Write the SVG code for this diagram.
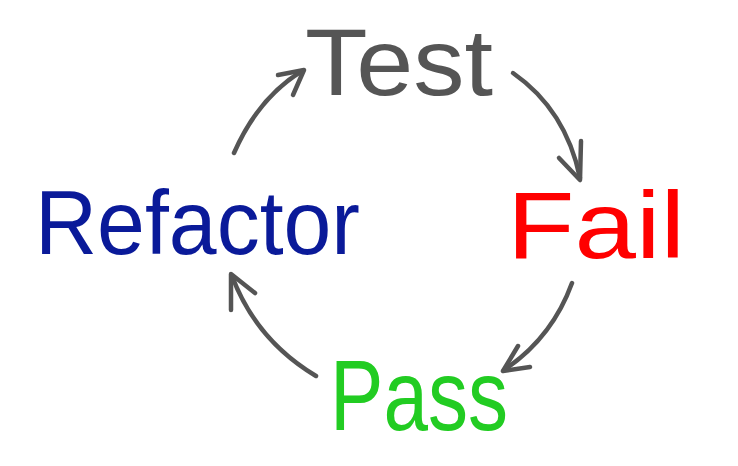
<svg xmlns="http://www.w3.org/2000/svg" width="738" height="466" viewBox="0 0 738 466">
<style>
.lbl{font-family:"Liberation Sans","DejaVu Sans",sans-serif;font-weight:normal}
.arr{fill:none;stroke:#555;stroke-width:4.5;stroke-linecap:round;stroke-linejoin:round}
</style>
<rect width="738" height="466" fill="#fff"/>
<g id="connectors">
<path class="arr" d="M234,153 Q258,98 302,71"/>
<path class="arr" d="M278,75 L304,70 L293,95"/>
<path class="arr" d="M513,73 Q566,110 580,178"/>
<path class="arr" d="M559,158 L580,180 L581,141"/>
<path class="arr" d="M572,283 Q552,338 504,370"/>
<path class="arr" d="M518,346 L503,371 L530,367"/>
<path class="arr" d="M316,376 Q256,340 232,276"/>
<path class="arr" d="M231,310 L231,274 L255,293"/>
</g>
<g id="test"><text class="lbl" x="305" y="95" font-size="95" fill="#555" textLength="188" lengthAdjust="spacingAndGlyphs">Test</text></g>
<g id="fail"><text class="lbl" x="507" y="258" font-size="95" fill="#f00" textLength="178" lengthAdjust="spacingAndGlyphs">Fail</text></g>
<g id="pass"><text class="lbl" x="330" y="430" font-size="100" fill="#22cc22" textLength="178" lengthAdjust="spacingAndGlyphs">Pass</text></g>
<g id="refactor"><text class="lbl" x="35" y="254" font-size="90" fill="#0a1a99" textLength="325" lengthAdjust="spacingAndGlyphs">Refactor</text></g>
</svg>
